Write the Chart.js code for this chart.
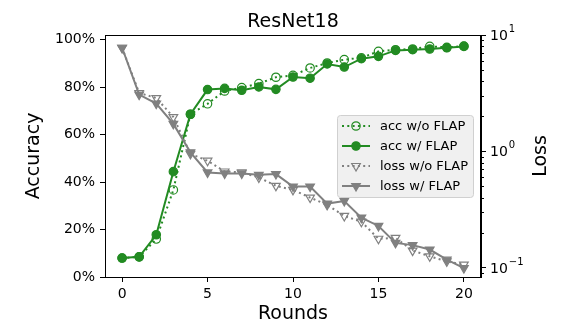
<!DOCTYPE html>
<html>
<head>
<meta charset="utf-8">
<script src="https://cdn.jsdelivr.net/npm/chart.js@4"></script>
<style>
  html, body { margin: 0; padding: 0; background: #fff; }
  #wrap { width: 567px; height: 325px; }
</style>
</head>
<body>
<div id="wrap"><canvas id="chart"></canvas></div>
<script>
const rounds = [0, 1, 2, 3, 4, 5, 6, 7, 8, 9, 10, 11, 12, 13, 14, 15, 16, 17, 18, 19, 20];
const accNoFlap = [0.080, 0.085, 0.160, 0.367, 0.686, 0.730, 0.784, 0.798, 0.815, 0.842, 0.850, 0.881, 0.902, 0.916, 0.924, 0.951, 0.958, 0.961, 0.972, 0.968, 0.973];
const accFlap = [0.080, 0.085, 0.178, 0.444, 0.686, 0.790, 0.795, 0.787, 0.801, 0.791, 0.843, 0.838, 0.898, 0.885, 0.920, 0.930, 0.955, 0.958, 0.961, 0.966, 0.972];
const lossNoFlap = [7.77, 3.17, 2.87, 1.97, 0.95, 0.83, 0.67, 0.658, 0.596, 0.505, 0.466, 0.40, 0.346, 0.278, 0.248, 0.177, 0.180, 0.140, 0.125, 0.113, 0.106];
const lossFlap = [7.77, 3.07, 2.57, 1.72, 0.98, 0.658, 0.645, 0.645, 0.628, 0.637, 0.498, 0.498, 0.355, 0.374, 0.269, 0.228, 0.163, 0.156, 0.143, 0.117, 0.099];
const roundTicks = [0, 5, 10, 15, 20];
const accTicks = [0, 0.2, 0.4, 0.6, 0.8, 1.0];
const lossTicks = [0.1, 1, 10];
const lossExponents = ['\u22121', '0', '1'];

const green = '#228B22';
const grey = '#808080';
const FONT = 'DejaVu Sans';

Chart.defaults.font.family = FONT;
Chart.defaults.color = '#000';

const pts = vals => rounds.map((r, i) => ({ x: r, y: vals[i] }));

const series = [
  { label: 'acc w/o FLAP', data: accNoFlap, axis: 'y', color: green, dotted: true, marker: 'circle', filled: false, order: 4 },
  { label: 'acc w/ FLAP', data: accFlap, axis: 'y', color: green, dotted: false, marker: 'circle', filled: true, order: 3 },
  { label: 'loss w/o FLAP', data: lossNoFlap, axis: 'y2', color: grey, dotted: true, marker: 'triangle', filled: false, order: 2 },
  { label: 'loss w/ FLAP', data: lossFlap, axis: 'y2', color: grey, dotted: false, marker: 'triangle', filled: true, order: 1 }
];

const datasets = series.map(s => ({
  label: s.label,
  data: pts(s.data),
  yAxisID: s.axis,
  order: s.order,
  borderColor: s.color,
  borderWidth: 2,
  borderDash: s.dotted ? [2, 3.3] : [],
  tension: 0,
  pointStyle: s.marker,
  rotation: s.marker === 'triangle' ? 180 : 0,
  pointRadius: s.marker === 'triangle' ? 5 : 4.2,
  pointBorderWidth: 1.2,
  pointBorderColor: s.color,
  pointBackgroundColor: s.filled ? s.color : 'rgba(0,0,0,0)'
}));

function drawMarker(ctx, s, x, y) {
  ctx.save();
  ctx.setLineDash([]);
  ctx.lineWidth = 1.2;
  ctx.strokeStyle = s.color;
  ctx.fillStyle = s.filled ? s.color : 'rgba(0,0,0,0)';
  ctx.beginPath();
  if (s.marker === 'circle') {
    ctx.arc(x, y, 4.2, 0, Math.PI * 2);
  } else {
    const r = 5;
    for (let k = 0; k < 3; k++) {
      const a = Math.PI + k * 2 * Math.PI / 3;
      const px = x + Math.sin(a) * r, py = y - Math.cos(a) * r;
      if (k === 0) ctx.moveTo(px, py); else ctx.lineTo(px, py);
    }
    ctx.closePath();
  }
  ctx.fill();
  ctx.stroke();
  ctx.restore();
}

const extras = {
  id: 'extras',
  afterDatasetsDraw(chart) {
    const ctx = chart.ctx;
    const a = chart.chartArea;
    // frame round the plot
    ctx.save();
    ctx.strokeStyle = '#000';
    ctx.lineWidth = 1;
    ctx.strokeRect(a.left + 0.5, a.top + 0.5, a.right - a.left - 1, a.bottom - a.top);
    // minor ticks on the log axis
    const y2 = chart.scales.y2;
    ctx.beginPath();
    [0.01, 0.1, 1].forEach(d => {
      for (let m = 2; m <= 9; m++) {
        const v = d * m;
        if (v < y2.min || v > y2.max) continue;
        const py = Math.round(y2.getPixelForValue(v)) + 0.5;
        ctx.moveTo(a.right, py);
        ctx.lineTo(a.right + 3, py);
      }
    });
    ctx.stroke();
    // log tick labels as 10 with a raised exponent
    ctx.fillStyle = '#000';
    ctx.textAlign = 'left';
    ctx.textBaseline = 'alphabetic';
    lossTicks.forEach((v, i) => {
      const py = y2.getPixelForValue(v);
      const x0 = a.right + 9;
      ctx.font = '14px "' + FONT + '"';
      ctx.fillText('10', x0, py + 5);
      const w = ctx.measureText('10').width;
      ctx.font = '10px "' + FONT + '"';
      ctx.fillText(lossExponents[i], x0 + w + 1, py - 3);
    });
    // right axis title, reading upwards
    ctx.save();
    ctx.font = '19px "' + FONT + '"';
    ctx.textAlign = 'center';
    ctx.textBaseline = 'middle';
    ctx.translate(541, (a.top + a.bottom) / 2);
    ctx.rotate(-Math.PI / 2);
    ctx.fillText('Loss', 0, 0);
    ctx.restore();
    // title
    ctx.font = '19px "' + FONT + '"';
    ctx.textAlign = 'center';
    ctx.textBaseline = 'alphabetic';
    ctx.fillText('ResNet18', (a.left + a.right) / 2, 27);
    // legend
    const bx = 337, by = 115, bw = 136, bh = 82;
    ctx.fillStyle = 'rgba(238,238,238,0.9)';
    ctx.strokeStyle = '#d0d0d0';
    ctx.beginPath();
    ctx.roundRect(bx + 0.5, by + 0.5, bw, bh, 3);
    ctx.fill();
    ctx.stroke();
    ctx.font = '13px "' + FONT + '"';
    ctx.textAlign = 'left';
    ctx.textBaseline = 'middle';
    series.forEach((s, i) => {
      const cy = by + 11 + i * 20;
      ctx.save();
      ctx.strokeStyle = s.color;
      ctx.lineWidth = 2;
      ctx.setLineDash(s.dotted ? [2, 3.3] : []);
      ctx.beginPath();
      ctx.moveTo(342, cy);
      ctx.lineTo(370, cy);
      ctx.stroke();
      ctx.restore();
      drawMarker(ctx, s, 356, cy);
      ctx.fillStyle = '#000';
      ctx.fillText(s.label, 380, cy + 1);
    });
    ctx.restore();
  }
};

const axisBase = {
  grid: { drawOnChartArea: false, tickLength: 5, tickColor: '#000' },
  border: { color: '#000', width: 1 },
};

new Chart(document.getElementById('chart'), {
  type: 'line',
  data: { datasets },
  plugins: [extras],
  options: {
    responsive: true,
    maintainAspectRatio: false,
    animation: false,
    devicePixelRatio: 1,
    layout: { padding: { top: 35, left: 0, right: 0, bottom: 0 } },
    plugins: { legend: { display: false }, title: { display: false }, tooltip: { enabled: false } },
    scales: {
      x: {
        ...axisBase,
        type: 'linear',
        min: -1,
        max: 21,
        afterBuildTicks: s => { s.ticks = roundTicks.map(v => ({ value: v })); },
        afterFit: s => { s.height = 48; },
        ticks: { font: { size: 14 }, color: '#000', padding: 4, maxRotation: 0, autoSkip: false },
        title: { display: true, text: 'Rounds', font: { size: 19, lineHeight: 1.2 }, color: '#000', padding: 0 }
      },
      y: {
        ...axisBase,
        position: 'left',
        min: 0,
        max: 1.02,
        afterBuildTicks: s => { s.ticks = accTicks.map(v => ({ value: v })); },
        afterFit: s => { s.width = 105; },
        ticks: { font: { size: 14 }, color: '#000', padding: 5, autoSkip: false, callback: v => Math.round(v * 100) + '%' },
        title: { display: true, text: 'Accuracy', font: { size: 19, lineHeight: 1.2 }, color: '#000', padding: { top: 23, bottom: 0 } }
      },
      y2: {
        ...axisBase,
        type: 'logarithmic',
        position: 'right',
        min: 0.083,
        max: 10,
        afterBuildTicks: s => { s.ticks = lossTicks.map(v => ({ value: v })); },
        afterFit: s => { s.width = 86; },
        ticks: { display: false },
        title: { display: false }
      }
    }
  }
});
</script>
</body>
</html>
